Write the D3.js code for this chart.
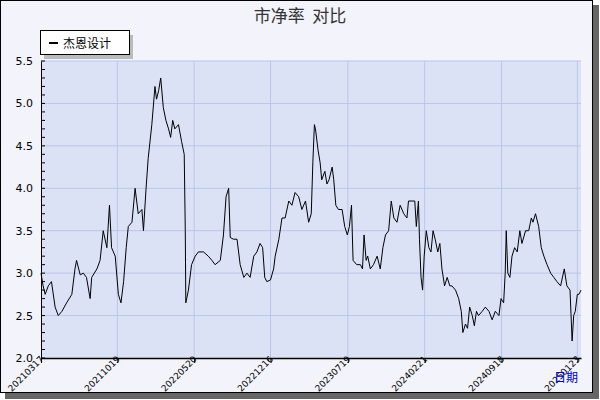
<!DOCTYPE html>
<html><head><meta charset="utf-8">
<script src="https://cdn.jsdelivr.net/npm/d3@7"></script>
<style>body{margin:0;background:#fff}</style></head>
<body><svg id="c" width="600" height="400"></svg>
<script>
const days = [0,4,8,14,20,27,33,40,49,59,65,68,75,81,87,94,97,107,113,119,126,131,135,142,148,153,158,163,167,174,180,186,193,196,201,205,212,218,221,225,229,234,239,244,248,252,256,263,269,274,276,277,282,288,295,301,311,320,327,333,343,349,354,359,
362,368,375,381,388,394,400,407,413,419,424,428,432,439,445,448,455,461,467,474,480,486,493,499,506,512,517,520,523,525,530,534,537,543,547,551,557,560,564,569,576,581,586,590,594,597,604,611,615,618,622,625,630,636,643,649,654,659,665,670,675,681,687,694,700,703,710,715,
718,722,724,727,730,733,737,742,746,750,754,759,763,767,772,777,782,786,793,799,804,807,812,816,820,825,829,833,837,844,850,857,863,869,876,880,885,888,890,893,897,901,906,911,916,920,927,933,938,941,946,952,957,962,968,975,981,987,994,1001,1006,1012,1016,1019,1022,1026,1029,1033];
const pb = [3.0,2.85,2.75,2.85,2.9,2.6,2.5,2.55,2.65,2.75,3.05,3.15,2.98,3.0,2.95,2.7,2.95,3.05,3.15,3.5,3.3,3.8,3.3,3.2,2.75,2.65,2.9,3.3,3.55,3.6,4.0,3.7,3.75,3.5,4.0,4.35,4.75,5.2,5.05,5.15,5.3,4.95,4.8,4.7,4.6,4.8,4.7,4.75,4.55,4.4,3.5,2.65,2.8,3.1,3.2,3.25,3.25,3.2,3.15,3.1,3.15,3.45,3.9,4.0,
3.42,3.4,3.4,3.1,2.95,3.0,2.95,3.2,3.25,3.35,3.3,2.95,2.9,2.92,3.05,3.2,3.4,3.65,3.65,3.85,3.8,3.95,3.9,3.75,3.85,3.6,3.7,4.3,4.75,4.7,4.45,4.3,4.1,4.2,4.05,4.1,4.25,4.1,3.8,3.75,3.75,3.55,3.45,3.55,3.8,3.15,3.1,3.1,3.05,3.45,3.15,3.2,3.05,3.1,3.2,3.05,3.3,3.45,3.5,3.85,3.65,3.6,3.8,3.7,3.65,3.85,3.85,3.85,
3.55,3.85,3.4,2.95,2.8,3.2,3.5,3.3,3.25,3.5,3.4,3.25,3.35,3.05,2.85,2.95,2.85,2.85,2.8,2.7,2.55,2.3,2.4,2.35,2.6,2.5,2.38,2.55,2.5,2.55,2.6,2.55,2.45,2.55,2.5,2.7,2.65,3.0,3.5,3.0,2.95,3.2,3.3,3.25,3.5,3.35,3.5,3.5,3.65,3.6,3.7,3.55,3.3,3.2,3.1,3.0,2.95,2.9,2.85,3.05,2.85,2.8,2.2,2.5,2.55,2.75,2.75,2.8];
const tickDays = [0,146,293,439,587,734,881,1026];
const tickLabels = ["20210317","20211019","20220520","20221216","20230719","20240221","20240918","20250123"];
const yTicks = [2.0,2.5,3.0,3.5,4.0,4.5,5.0,5.5];

const svg = d3.select("#c");
const font = "DejaVu Sans";
svg.append("rect").attr("x",5).attr("y",5).attr("width",594).attr("height",394).attr("fill","#666");
svg.append("rect").attr("x",0.5).attr("y",0.5).attr("width",592).attr("height",392).attr("fill","#f2f3fb").attr("stroke","#000");

const L=41,R=581,T=61,B=358;
const x = d3.scaleLinear().domain([0,1033]).range([L,R]);
const y = d3.scaleLinear().domain([2.0,5.5]).range([B,T]);

svg.append("rect").attr("x",L).attr("y",T).attr("width",R-L).attr("height",B-T).attr("fill","#dce2f6");
svg.append("g").selectAll("line").data(yTicks.slice(1)).join("line")
  .attr("x1",L).attr("x2",R).attr("y1",d=>y(d)).attr("y2",d=>y(d)).attr("stroke","#b9c5ea");
svg.append("g").selectAll("line").data(tickDays.slice(1)).join("line")
  .attr("y1",T).attr("y2",B).attr("x1",d=>x(d)).attr("x2",d=>x(d)).attr("stroke","#b9c5ea");

svg.append("path").datum(days.map((d,i)=>[d,pb[i]]))
  .attr("d",d3.line().x(d=>x(d[0])).y(d=>y(d[1])))
  .attr("fill","none").attr("stroke","#000").attr("stroke-width",1);

const ya = svg.append("g").attr("transform",`translate(${L},0)`)
  .call(d3.axisLeft(y).tickValues(yTicks).tickFormat(d3.format(".1f")).tickSize(0).tickPadding(8));
ya.select(".domain").attr("stroke","#000");
ya.selectAll("text").attr("font-family",font).attr("font-size",11).attr("fill","#000");
svg.append("g").selectAll("line").data(d3.range(2.0,5.51,0.1)).join("line")
  .attr("x1",L).attr("x2",L+4).attr("y1",d=>y(d)).attr("y2",d=>y(d)).attr("stroke","#000");

const xa = svg.append("g").attr("transform",`translate(0,${B})`)
  .call(d3.axisBottom(x).tickValues(tickDays).tickFormat((d,i)=>tickLabels[i]).tickSize(5).tickSizeOuter(0));
xa.select(".domain").attr("stroke","#000").attr("stroke-width",1.5);
xa.selectAll("text").attr("font-family",font).attr("font-size",9).attr("fill","#000")
  .attr("text-anchor","end").attr("transform","translate(-8,8) rotate(-45)").attr("dy","0.35em").attr("y",0).attr("x",12);

svg.append("text").attr("x",300).attr("y",22).attr("text-anchor","middle").style("white-space","pre")
  .attr("font-family","Noto Sans CJK SC").attr("font-size",17).attr("fill","#333").text("市净率  对比");
svg.append("text").attr("x",578).attr("y",382).attr("text-anchor","end")
  .attr("font-family","Noto Sans CJK SC").attr("font-size",12).attr("fill","#0000cc").text("日期");

svg.append("rect").attr("x",44).attr("y",35).attr("width",89).attr("height",24).attr("fill","#bbb");
svg.append("rect").attr("x",40.5).attr("y",30.5).attr("width",89).attr("height",24).attr("fill","#fff").attr("stroke","#000");
svg.append("line").attr("x1",49).attr("x2",58).attr("y1",43).attr("y2",43).attr("stroke","#000").attr("stroke-width",2);
svg.append("text").attr("x",63).attr("y",47.5).attr("font-family","Noto Sans CJK SC").attr("font-size",12).text("杰恩设计");
</script></body></html>
